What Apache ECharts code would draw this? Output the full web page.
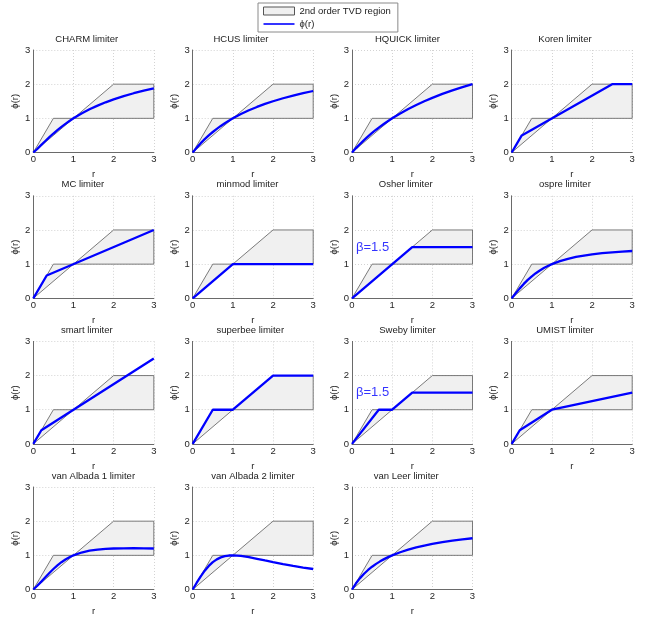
<!DOCTYPE html>
<html>
<head>
<meta charset="utf-8">
<script src="https://cdn.jsdelivr.net/npm/echarts@6/dist/echarts.min.js"></script>
<style>html,body{margin:0;padding:0;background:#fff}#c{width:650px;height:621px}</style>
</head>
<body>
<div id="c"></div>
<script>
// ---------- data ----------
const titles = ['CHARM limiter','HCUS limiter','HQUICK limiter','Koren limiter',
  'MC limiter','minmod limiter','Osher limiter','ospre limiter',
  'smart limiter','superbee limiter','Sweby limiter','UMIST limiter',
  'van Albada 1 limiter','van Albada 2 limiter','van Leer limiter'];
const axisTicks = [0, 1, 2, 3];
const tvdR   = [0, 0.5, 1, 2, 3, 3, 1, 0];
const tvdPhi = [0, 1,   1, 2, 2, 1, 1, 0];

const rCurve = [0,0.1,0.2,0.3,0.4,0.5,0.6,0.7,0.8,0.9,1,1.2,1.4,1.6,1.8,2,2.25,2.5,2.75,3];
const charmPhi  = [0,0.1074,0.2222,0.3373,0.4490,0.5556,0.6563,0.7509,0.8395,0.9224,1,1.1405,1.2639,1.3728,1.4694,1.5556,1.6509,1.7347,1.8089,1.875];
const hcusPhi   = [0,0.1429,0.2727,0.3913,0.5,0.6,0.6923,0.7778,0.8571,0.9310,1,1.125,1.2353,1.3333,1.4211,1.5,1.5882,1.6667,1.7368,1.8];
const hquickPhi = [0,0.1290,0.25,0.3636,0.4706,0.5714,0.6667,0.7568,0.8421,0.9231,1,1.1429,1.2727,1.3913,1.5,1.6,1.7143,1.8182,1.9130,2];
const osprePhi  = [0,0.1486,0.2903,0.4209,0.5385,0.6429,0.7347,0.8151,0.8852,0.9465,1,1.0879,1.1560,1.2093,1.2517,1.2857,1.3195,1.3462,1.3674,1.3846];
const vanAlbada1Phi = [0,0.1089,0.2308,0.3578,0.4828,0.6,0.7059,0.7987,0.8780,0.9448,1,1.0820,1.1351,1.1685,1.1887,1.2,1.2062,1.2069,1.2044,1.2];
const vanAlbada2Phi = [0,0.1980,0.3846,0.5505,0.6897,0.8,0.8824,0.9396,0.9756,0.9945,1,0.9836,0.9459,0.8989,0.8491,0.8,0.7423,0.6897,0.6423,0.6];
const vanLeerPhi = [0,0.1818,0.3333,0.4615,0.5714,0.6667,0.75,0.8235,0.8889,0.9474,1,1.0909,1.1667,1.2308,1.2857,1.3333,1.3846,1.4286,1.4667,1.5];

const korenR = [0,0.25,2.5,3];       const korenPhi = [0,0.5,2,2];
const mcR = [0,0.3333,3];            const mcPhi = [0,0.6667,2];
const minmodR = [0,1,3];             const minmodPhi = [0,1,1];
const osherR = [0,1.5,3];            const osherPhi = [0,1.5,1.5];
const smartR = [0,0.2,3];            const smartPhi = [0,0.4,2.5];
const superbeeR = [0,0.5,1,2,3];     const superbeePhi = [0,1,1,2,2];
const swebyR = [0,0.6667,1,1.5,3];   const swebyPhi = [0,1,1,1.5,1.5];
const umistR = [0,0.2,1,3];          const umistPhi = [0,0.4,1,1.5];

const betaLabel = 'β=1.5';
const betaPos = [0.1, 1.5];

// ---------- build ----------
const curves = [
  [rCurve, charmPhi], [rCurve, hcusPhi], [rCurve, hquickPhi], [korenR, korenPhi],
  [mcR, mcPhi], [minmodR, minmodPhi], [osherR, osherPhi], [rCurve, osprePhi],
  [smartR, smartPhi], [superbeeR, superbeePhi], [swebyR, swebyPhi], [umistR, umistPhi],
  [rCurve, vanAlbada1Phi], [rCurve, vanAlbada2Phi], [rCurve, vanLeerPhi]
];
const withBeta = [6, 10];
const zip = (a, b) => a.map((v, i) => [v, b[i]]);

const colLeft = [33.3, 192.7, 352, 511.7];
const rowTop = [50, 195.8, 341.4, 487];
const W = 120.5, H = 102.5;
const titleShift = [-6.8,-12,-4.8,-7,-10.7,-5.5,-6.5,-7,-6.8,-2.7,-4.8,-7,-0.2,0,-6];

const FONT = 'Liberation Sans, Arial, Helvetica, sans-serif';
const grids = [], xAxes = [], yAxes = [], series = [], titleArr = [];
const TVD = '2nd order TVD region', PHI = 'ϕ(r)';

titles.forEach((t, i) => {
  const c = i % 4, r = Math.floor(i / 4);
  const left = colLeft[c], top = rowTop[r];
  grids.push({left: left, top: top, width: W, height: H, containLabel: false});
  titleArr.push({
    text: t, left: left + W / 2 + titleShift[i], top: top - 16, textAlign: 'center', padding: 0,
    textStyle: {fontSize: 9.5, fontWeight: 'normal', color: '#222', fontFamily: FONT}
  });
  const common = {
    type: 'value', gridIndex: i, min: axisTicks[0], max: axisTicks[axisTicks.length - 1], interval: 1,
    axisLine: {show: true, onZero: false, lineStyle: {color: '#6a6a6a', width: 1}},
    axisTick: {show: false},
    splitLine: {show: true, lineStyle: {type: [1, 2], color: '#c8c8c8', width: 0.8}},
    axisLabel: {fontSize: 9.5, color: '#262626', fontFamily: FONT, margin: 3},
    nameTextStyle: {fontSize: 9.5, color: '#262626', fontFamily: FONT},
    nameLocation: 'middle'
  };
  xAxes.push(Object.assign({}, common, {name: 'r', nameGap: 17,
    axisLabel: Object.assign({}, common.axisLabel, {margin: 2})}));
  yAxes.push(Object.assign({}, common, {name: PHI, nameGap: 13, nameRotate: 90}));

  series.push({
    type: 'custom', name: TVD, xAxisIndex: i, yAxisIndex: i, silent: true, z: 1,
    data: [[0, 0]],
    itemStyle: {color: '#f0f0f0', borderColor: '#555', borderWidth: 1},
    renderItem: function (params, api) {
      const pts = tvdR.map((x, k) => api.coord([x, tvdPhi[k]]));
      return {type: 'polygon', shape: {points: pts},
        style: {fill: '#f0f0f0', stroke: '#5a5a5a', lineWidth: 0.8}};
    }
  });
  series.push({
    type: 'line', name: PHI, xAxisIndex: i, yAxisIndex: i, z: 3,
    data: zip(curves[i][0], curves[i][1]),
    showSymbol: false, symbol: 'none', smooth: false, silent: true,
    lineStyle: {color: '#0000ff', width: 2.3}, itemStyle: {color: '#0000ff'}
  });
  if (withBeta.includes(i)) {
    series.push({
      type: 'scatter', xAxisIndex: i, yAxisIndex: i, z: 4, silent: true,
      symbolSize: 0, data: [betaPos],
      label: {show: true, position: 'right', distance: 0, formatter: betaLabel,
        color: '#0000ff', fontSize: 13, fontFamily: FONT}
    });
  }
});

const chart = echarts.init(document.getElementById('c'), null, {renderer: 'canvas'});
chart.setOption({
  animation: false,
  backgroundColor: '#fff',
  title: titleArr,
  legend: {
    left: 258, top: 3, orient: 'vertical',
    padding: [3, 7, 3, 5], itemGap: 3, itemWidth: 31, itemHeight: 8,
    borderColor: '#8a8a8a', borderWidth: 1, backgroundColor: '#fff',
    textStyle: {fontSize: 9.5, color: '#222', fontFamily: FONT},
    selectedMode: false,
    data: [
      {name: TVD, icon: 'rect', itemStyle: {color: '#f0f0f0', borderColor: '#555', borderWidth: 1}},
      {name: PHI, icon: 'path://M0,0H31V1.6H0Z', symbolKeepAspect: true,
        itemStyle: {color: '#0000ff', borderWidth: 0}}
    ]
  },
  grid: grids, xAxis: xAxes, yAxis: yAxes, series: series
});
</script>
</body>
</html>
